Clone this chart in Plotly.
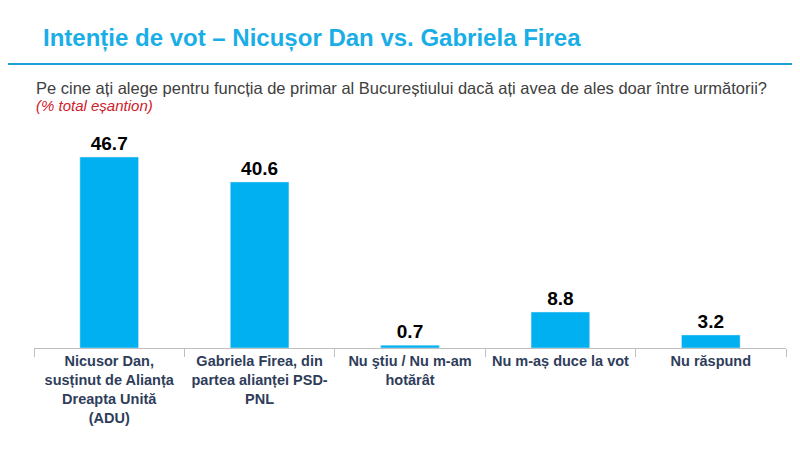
import plotly.graph_objects as go

categories = [
    "Nicusor Dan,<br>susținut de Alianța<br>Dreapta Unită<br>(ADU)",
    "Gabriela Firea, din<br>partea alianței PSD-<br>PNL",
    "Nu ştiu / Nu m-am<br>hotărât",
    "Nu m-aș duce la vot",
    "Nu răspund",
]
values = [46.7, 40.6, 0.7, 8.8, 3.2]

fig = go.Figure(
    go.Bar(
        x=categories,
        y=values,
        width=0.39,
        marker_color="#00b0f0",
        text=[f"{v:.1f}" for v in values],
        textposition="outside",
        cliponaxis=False,
        textfont=dict(family="Liberation Sans", size=19, color="black", weight="bold"),
    )
)

fig.update_layout(
    width=800,
    height=450,
    paper_bgcolor="white",
    plot_bgcolor="white",
    showlegend=False,
    margin=dict(l=26, r=22, t=113, b=110, autoexpand=False),
    font=dict(family="Liberation Sans"),
)
fig.update_xaxes(
    showline=True,
    linecolor="#bfbfbf",
    ticks="outside",
    tickson="boundaries",
    ticklen=8,
    tickcolor="#bfbfbf",
    tickangle=0,
    automargin=False,
    tickfont=dict(size=14.5, color="#2e3d5a", weight="bold"),
)
fig.update_yaxes(visible=False, range=[0, 55.5])

# title, rule and subtitle
fig.add_annotation(
    text="Intenție de vot – Nicușor Dan vs. Gabriela Firea",
    xref="paper", yref="paper", x=0.009, y=1.366, xanchor="left", yanchor="middle",
    showarrow=False,
    font=dict(size=24, color="#1aaee6", weight="bold"),
)
fig.add_shape(type="line", xref="paper", yref="paper", x0=-0.05, x1=1.05, y0=1.251, y1=1.251,
              line=dict(color="#1a9fd5", width=2))
fig.add_annotation(
    text="Pe cine ați alege pentru funcția de primar al Bucureștiului dacă ați avea de ales doar între următorii?",
    xref="paper", yref="paper", x=0.0, y=1.145, xanchor="left", yanchor="middle",
    showarrow=False,
    font=dict(size=16.5, color="#404040"),
)
fig.add_annotation(
    text="<i>(% total eșantion)</i>",
    xref="paper", yref="paper", x=0.0, y=1.07, xanchor="left", yanchor="middle",
    showarrow=False,
    font=dict(size=15, color="#d0202a"),
)

fig.write_html("out.html")
